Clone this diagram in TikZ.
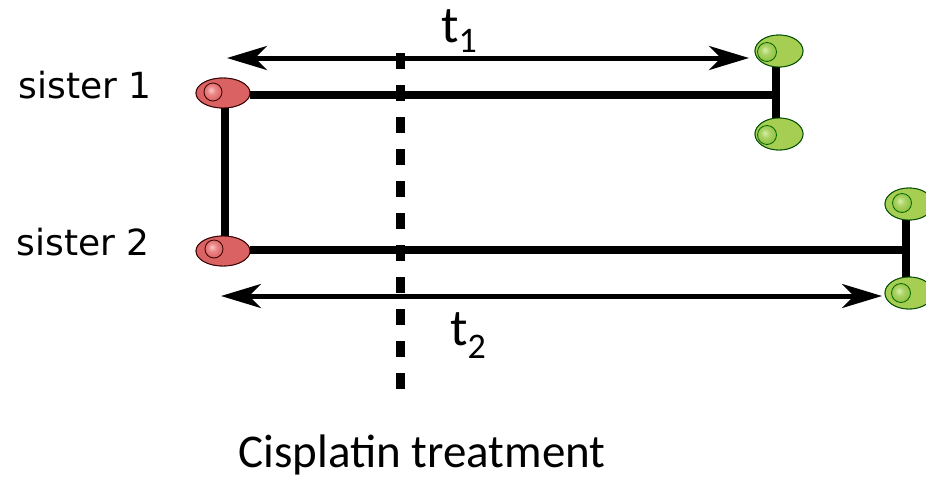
\documentclass[tikz,border=0pt]{standalone}
\usepackage{fontspec}
\usetikzlibrary{shapes.geometric,arrows.meta}
\newfontfamily\dejavu{DejaVu Sans}
\newfontfamily\calib{Carlito}
\definecolor{cellred}{RGB}{218,98,98}
\definecolor{cellgreen}{RGB}{166,206,82}
\definecolor{nucredlight}{RGB}{250,200,200}
\definecolor{nucred}{RGB}{222,90,90}
\definecolor{nucgreenlight}{RGB}{215,240,170}
\definecolor{nucgreen}{RGB}{140,190,55}
\pgfdeclareradialshading{nucRshade}{\pgfpoint{-6bp}{6bp}}{color(0bp)=(nucredlight); color(12bp)=(nucred!60!nucredlight); color(30bp)=(nucred); color(50bp)=(nucred)}
\pgfdeclareradialshading{nucGshade}{\pgfpoint{-6bp}{6bp}}{color(0bp)=(nucgreenlight); color(12bp)=(nucgreen!60!nucgreenlight); color(30bp)=(nucgreen); color(50bp)=(nucgreen)}
\tikzset{
  redcell/.style={ellipse, draw=black!80!red, line width=0.9pt, fill=cellred, minimum width=54pt, minimum height=30pt, inner sep=0pt},
  greencell/.style={ellipse, draw=black!70!green, line width=0.9pt, fill=cellgreen, minimum width=48pt, minimum height=32pt, inner sep=0pt},
  rednuc/.style={circle, draw=black!80!red, line width=0.8pt, inner sep=0pt, minimum size=18pt, shading=nucRshade},
  greennuc/.style={circle, draw=black!60!green, line width=0.8pt, inner sep=0pt, minimum size=19pt, shading=nucGshade},
  lineage/.style={line width=8pt},
  timearrow/.style={line width=5pt, {Stealth[length=40pt,width=24pt,inset=12pt]}-{Stealth[length=40pt,width=24pt,inset=12pt]}},
  treat/.style={line width=9pt, dash pattern=on 16pt off 16pt},
  sislabel/.style={font=\dejavu\fontsize{36}{36}\selectfont, inner sep=0pt},
  tlabel/.style={font=\calib\fontsize{52}{52}\selectfont, inner sep=0pt, anchor=base west}
}
\begin{document}
\begin{tikzpicture}[x=1pt,y=-1pt]
\useasboundingbox (0,0) rectangle (926,480);
\coordinate (j1) at (776,95);
\coordinate (j2) at (906,250);
\node[redcell] (r1) at (223,93) {};
\node[redcell] (r2) at (223,251) {};
\node[greencell] (g1a) at (779,51) {};
\node[greencell] (g1b) at (779,134) {};
\node[greencell] (g2a) at (909,204) {};
\node[greencell] (g2b) at (909,293) {};
% lineage lines
\draw[lineage] (r1.south -| 225,0) -- (r2.north -| 225,0);
\draw[lineage] (r1.east |- j1) -- (j1);
\draw[lineage] (g1a.south -| j1) -- (g1b.north -| j1);
\draw[lineage] (r2.east |- j2) -- (j2);
\draw[lineage] (g2a.south -| j2) -- (g2b.north -| j2);
% redraw cells on top
\node[redcell] at (r1) {};
\node[redcell] at (r2) {};
\node[greencell] at (g1a) {};
\node[greencell] at (g1b) {};
\node[greencell] at (g2a) {};
\node[greencell] at (g2b) {};
\node[rednuc] (n1) at (213,92) {};
\node[rednuc] (n2) at (214,249) {};
\node[greennuc] (n3) at (767,52) {};
\node[greennuc] (n4) at (767,135) {};
\node[greennuc] (n5) at (902,203) {};
\node[greennuc] (n6) at (901,293) {};
% time arrows
\coordinate (a1l) at (227,58);
\coordinate (a1r) at (749,58);
\coordinate (a2l) at (221,296);
\coordinate (a2r) at (882,296);
\draw[timearrow] (a1l) -- (a1r);
\draw[timearrow] (a2l) -- (a2r);
% treatment line
\coordinate (dt) at (400,53);
\coordinate (db) at (400,390);
\draw[treat] (dt) -- (db);
% labels
\node[sislabel] (s1) at (85,85) {sister 1};
\node[sislabel] (s2) at (83,242) {sister 2};
\node[tlabel] (t1) at (441,42) {t\raisebox{-10pt}{\fontsize{36}{36}\selectfont 1}};
\node[tlabel] (t2) at (450,345) {t\raisebox{-13pt}{\fontsize{36}{36}\selectfont 2}};
\node[font=\calib\fontsize{47}{47}\selectfont, inner sep=0pt] (ct) at (422,455) {Cisplatin treatment};
\end{tikzpicture}
\end{document}
